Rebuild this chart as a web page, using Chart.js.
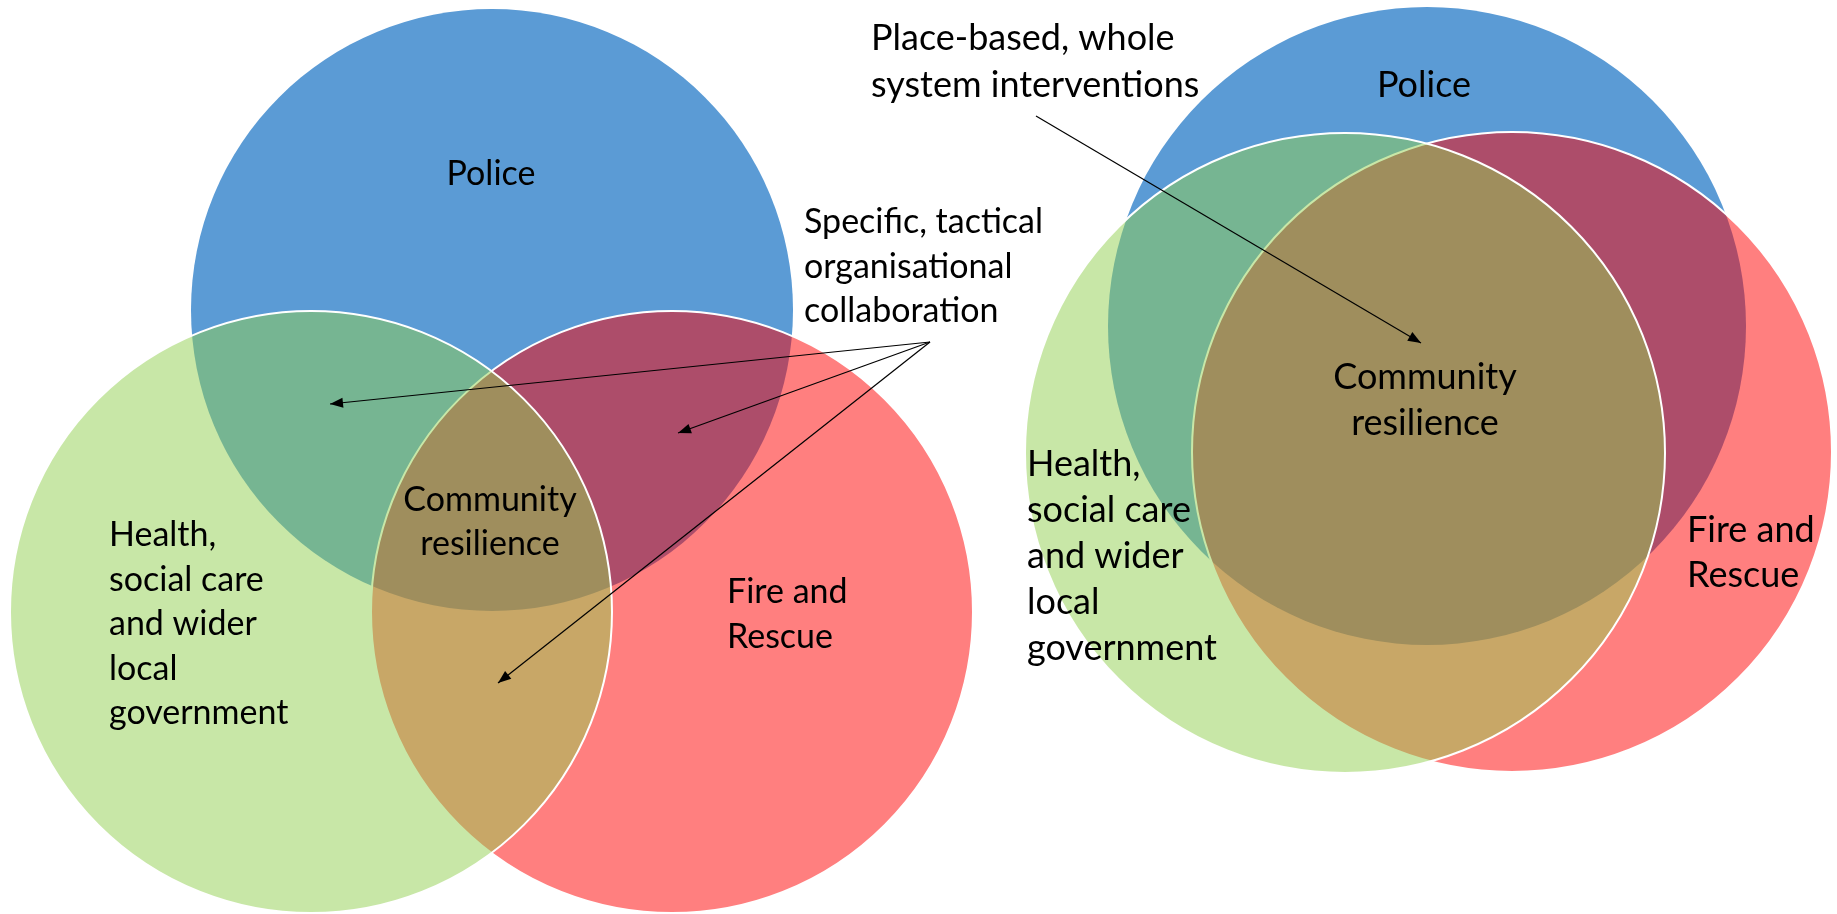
<!DOCTYPE html>
<html>
<head>
<meta charset="utf-8">
<script src="https://cdn.jsdelivr.net/npm/chart.js@4.4.1/dist/chart.umd.min.js"></script>
<style>
  html, body { margin: 0; padding: 0; background: #fff; overflow: hidden; }
  #wrap { position: relative; width: 1837px; height: 914px; }
</style>
</head>
<body>
<div id="wrap"><canvas id="venn"></canvas></div>
<script>
// Two Venn diagrams side by side: tactical collaboration (left) vs whole system (right).
// Plot units run 0..1837 across and 0..914 down, chart area = whole canvas so 1 unit = 1px.

const groups = ['Police', 'Fire and Rescue', 'Health, social care and wider local government'];

// circle centres + radii, first = left diagram, second = right diagram
const policeCircles = [{ x: 492, y: 310, r: 301 }, { x: 1427, y: 326, r: 319 }];
const fireCircles = [{ x: 672, y: 612, r: 301 }, { x: 1512, y: 452, r: 320 }];
const healthCircles = [{ x: 311, y: 612, r: 301 }, { x: 1345, y: 453, r: 320 }];

// annotation arrows, [from, to]
const tacticalArrows = [
  [{ x: 930, y: 342 }, { x: 330, y: 404 }],
  [{ x: 930, y: 342 }, { x: 678, y: 433 }],
  [{ x: 930, y: 342 }, { x: 498, y: 683 }],
];
const wholeSystemArrows = [
  [{ x: 1036, y: 116 }, { x: 1421, y: 343 }],
];

const FONT = 'Lato, "Open Sans", sans-serif';
const SMALL = 34, BIG = 36;

// text blocks: anchor + first baseline, line step
const labels = [
  { lines: ['Police'], x: 491, y: 185, step: 44, size: SMALL, align: 'center' },
  { lines: ['Community', 'resilience'], x: 490, y: 511, step: 44, size: SMALL, align: 'center' },
  { lines: ['Fire and', 'Rescue'], x: 727, y: 603, step: 45, size: SMALL, align: 'left' },
  { lines: ['Health,', 'social care', 'and wider', 'local', 'government'], x: 109, y: 546, step: 44.5, size: SMALL, align: 'left' },
  { lines: ['Specific, tactical', 'organisational', 'collaboration'], x: 804, y: 233, step: 44.5, size: SMALL, align: 'left' },
  { lines: ['Place-based, whole', 'system interventions'], x: 871, y: 50, step: 47, size: BIG, align: 'left' },
  { lines: ['Police'], x: 1424, y: 97, step: 46, size: BIG, align: 'center' },
  { lines: ['Community', 'resilience'], x: 1425, y: 389, step: 46, size: BIG, align: 'center' },
  { lines: ['Health,', 'social care', 'and wider', 'local', 'government'], x: 1027, y: 476, step: 46, size: BIG, align: 'left' },
  { lines: ['Fire and', 'Rescue'], x: 1687, y: 542, step: 44.5, size: BIG, align: 'left' },
];

// filled triangle at the end of every arrow line
const arrowHeads = {
  id: 'arrowHeads',
  afterDatasetsDraw(chart) {
    const { ctx } = chart;
    ctx.save();
    ctx.fillStyle = '#000';
    chart.data.datasets.forEach((ds, i) => {
      if (!ds.arrow) return;
      const pts = chart.getDatasetMeta(i).data;
      const a = pts[pts.length - 2], b = pts[pts.length - 1];
      const ang = Math.atan2(b.y - a.y, b.x - a.x);
      const len = 13, half = 5;
      ctx.beginPath();
      ctx.moveTo(b.x, b.y);
      ctx.lineTo(b.x - len * Math.cos(ang) + half * Math.sin(ang), b.y - len * Math.sin(ang) - half * Math.cos(ang));
      ctx.lineTo(b.x - len * Math.cos(ang) - half * Math.sin(ang), b.y - len * Math.sin(ang) + half * Math.cos(ang));
      ctx.closePath();
      ctx.fill();
    });
    ctx.restore();
  },
};

const textLabels = {
  id: 'textLabels',
  afterDatasetsDraw(chart) {
    const { ctx, scales: { x, y } } = chart;
    ctx.save();
    ctx.fillStyle = '#000';
    ctx.textBaseline = 'alphabetic';
    for (const l of labels) {
      ctx.font = `${l.size}px ${FONT}`;
      ctx.textAlign = l.align;
      l.lines.forEach((t, i) => {
        ctx.fillText(t, x.getPixelForValue(l.x), y.getPixelForValue(l.y + i * l.step));
      });
    }
    ctx.restore();
  },
};

const arrowSet = (a) => ({
  type: 'line',
  arrow: true,
  data: a,
  borderColor: '#000',
  borderWidth: 1.2,
  pointRadius: 0,
  fill: false,
  order: 0,
});

const circleSet = (label, data, fill, border, order) => ({
  label,
  data,
  backgroundColor: fill,
  borderColor: border || 'rgba(0,0,0,0)',
  borderWidth: border ? 2 : 0,
  hoverRadius: 0,
  clip: false,
  order,
});

new Chart(document.getElementById('venn'), {
  type: 'bubble',
  data: {
    datasets: [
      // blue solid at the back, red then green washed on top at 50%
      circleSet(groups[0], policeCircles, '#5B9BD5', null, 3),
      circleSet(groups[1], fireCircles, 'rgba(255,0,0,0.5)', '#fff', 2),
      circleSet(groups[2], healthCircles, 'rgba(146,208,80,0.5)', '#fff', 1),
      ...tacticalArrows.map(arrowSet),
      ...wholeSystemArrows.map(arrowSet),
    ],
  },
  options: {
    responsive: true,
    maintainAspectRatio: false,
    animation: false,
    events: [],
    // bubbles would otherwise push the chart area in by their radius
    layout: { padding: 0, autoPadding: false },
    scales: {
      x: { type: 'linear', min: 0, max: 1837, display: false },
      y: { type: 'linear', min: 0, max: 914, reverse: true, display: false },
    },
    plugins: {
      legend: { display: false },
      tooltip: { enabled: false },
    },
  },
  plugins: [arrowHeads, textLabels],
});
</script>
</body>
</html>
